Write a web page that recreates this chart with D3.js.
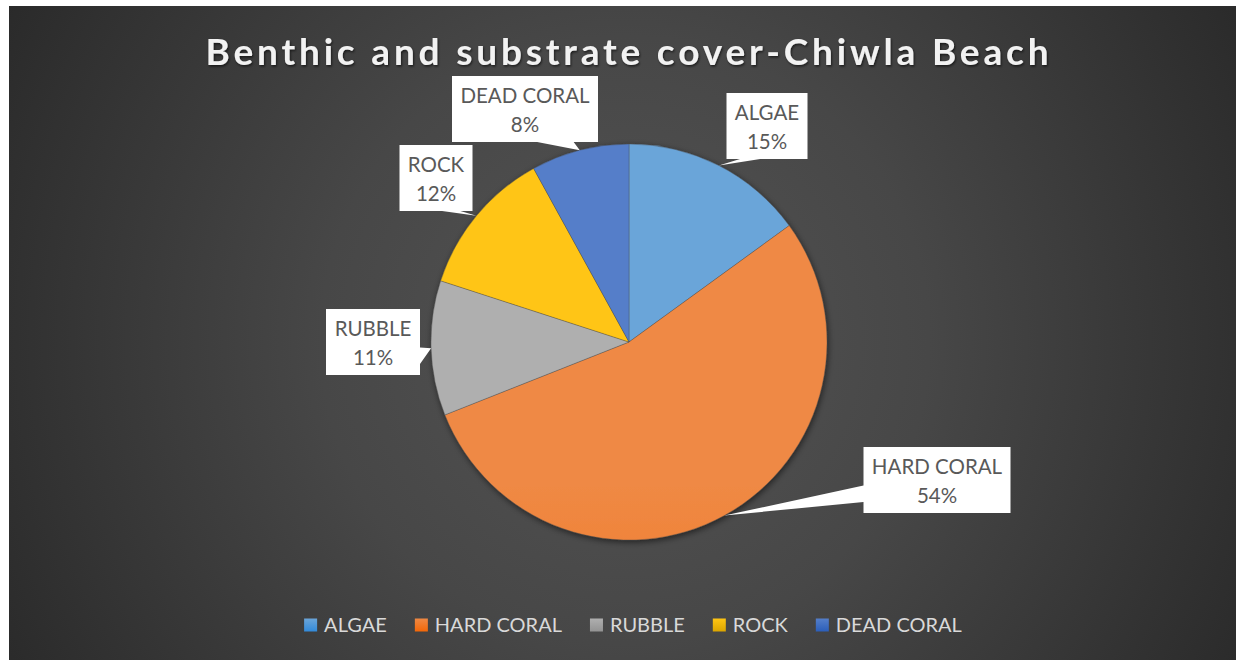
<!DOCTYPE html>
<html>
<head>
<script src="https://cdn.jsdelivr.net/npm/d3@7"></script>
<style>
body {margin: 0; background: #fff;}
text {font-family: Lato, "Open Sans", sans-serif;}
</style>
</head>
<body>
<svg id="chart" width="1236" height="660"></svg>
<script>
// data
var categories = ["ALGAE", "HARD CORAL", "RUBBLE", "ROCK", "DEAD CORAL"];
var values = [15, 54, 11, 12, 8];
var colors = ["#5B9BD5", "#ED7D31", "#A5A5A5", "#FFC000", "#4472C4"];
var title = "Benthic and substrate cover-Chiwla Beach";

// layout: callout box centres relative to the pie centre
var labelOffsets = [[138, -216], [308, 138], [-256, 0], [-193, -164], [-104, -233]];

var W = 1236, H = 660;
var cx = 629, cy = 342, R = 198;
var svg = d3.select("#chart");
var defs = svg.append("defs");

function tint(c, dl, ds) {
    var h = d3.hsl(c);
    h.l = Math.max(0, Math.min(1, h.l + dl));
    if (h.s > 0) h.s = Math.min(1, h.s + ds);
    return h.formatHex();
}
function addGrad(id, c, user) {
    var g = defs.append("linearGradient").attr("id", id);
    if (user) g.attr("gradientUnits", "userSpaceOnUse")
        .attr("x1", 0).attr("y1", cy - R).attr("x2", 0).attr("y2", cy + R);
    else g.attr("x1", 0).attr("y1", 0).attr("x2", 0).attr("y2", 1);
    g.append("stop").attr("offset", 0).attr("stop-color", tint(c, 0.04, 0));
    g.append("stop").attr("offset", 1).attr("stop-color", tint(c, -0.07, 0.1));
}

// background
var bg = defs.append("radialGradient").attr("id", "bg")
    .attr("gradientUnits", "userSpaceOnUse")
    .attr("cx", 625).attr("cy", 340).attr("r", 760);
bg.append("stop").attr("offset", 0).attr("stop-color", "#545454");
bg.append("stop").attr("offset", 0.4).attr("stop-color", "#474747");
bg.append("stop").attr("offset", 1).attr("stop-color", "#262626");
svg.append("rect").attr("x", 9).attr("y", 6).attr("width", W - 9).attr("height", H - 6)
    .attr("fill", "url(#bg)");

// shadows
var sh = defs.append("filter").attr("id", "shadow")
    .attr("x", "-20%").attr("y", "-20%").attr("width", "140%").attr("height", "140%");
sh.append("feDropShadow").attr("dx", 1).attr("dy", 2).attr("stdDeviation", 3)
    .attr("flood-color", "#000").attr("flood-opacity", 0.55);
var tsh = defs.append("filter").attr("id", "tshadow");
tsh.append("feDropShadow").attr("dx", 1).attr("dy", 1.5).attr("stdDeviation", 1.2)
    .attr("flood-color", "#000").attr("flood-opacity", 0.6);

// title
svg.append("text")
    .attr("x", 627).attr("y", 65)
    .attr("text-anchor", "middle")
    .attr("font-size", 37).attr("font-weight", "bold")
    .attr("textLength", 843).attr("lengthAdjust", "spacing")
    .attr("fill", "#f2f2f2")
    .attr("filter", "url(#tshadow)")
    .text(title);

categories.forEach(function(c, i) {
    addGrad("grad" + i, colors[i], true);
    addGrad("lgrad" + i, colors[i], false);
});

var total = d3.sum(values);
var pie = d3.pie().sort(null).value(function(d) { return d; });
var arcs = pie(values);
var arc = d3.arc().innerRadius(0).outerRadius(R);

var pg = svg.append("g").attr("transform", "translate(" + cx + "," + cy + ")")
    .attr("filter", "url(#shadow)");
pg.selectAll("path").data(arcs).enter().append("path")
    .attr("d", arc)
    .attr("fill", function(d, i) { return "url(#grad" + i + ")"; })
    .attr("stroke", "rgba(70,70,70,0.45)")
    .attr("stroke-width", 0.75);

// callouts
var pct = d3.format(".0%");
function calloutPath(x0, y0, w, h, tx, ty) {
    var dx = (tx - (x0 + w / 2)) / w, dy = (ty - (y0 + h / 2)) / h;
    var pts;
    if (Math.abs(dx) > Math.abs(dy)) {
        var ya = dy < 0 ? y0 + h * 2 / 12 : y0 + h * 7 / 12;
        var yb = dy < 0 ? y0 + h * 5 / 12 : y0 + h * 10 / 12;
        if (dx > 0) pts = [[x0, y0], [x0 + w, y0], [x0 + w, ya], [tx, ty], [x0 + w, yb], [x0 + w, y0 + h], [x0, y0 + h]];
        else pts = [[x0, y0], [x0 + w, y0], [x0 + w, y0 + h], [x0, y0 + h], [x0, yb], [tx, ty], [x0, ya]];
    } else {
        var xa = dx < 0 ? x0 + w * 2 / 12 : x0 + w * 7 / 12;
        var xb = dx < 0 ? x0 + w * 5 / 12 : x0 + w * 10 / 12;
        if (dy > 0) pts = [[x0, y0], [x0 + w, y0], [x0 + w, y0 + h], [xb, y0 + h], [tx, ty], [xa, y0 + h], [x0, y0 + h]];
        else pts = [[x0, y0], [xa, y0], [tx, ty], [xb, y0], [x0 + w, y0], [x0 + w, y0 + h], [x0, y0 + h]];
    }
    return "M" + pts.map(function(p) { return p.join(","); }).join("L") + "Z";
}

var lg = svg.append("g");
arcs.forEach(function(d, i) {
    var g = lg.append("g");
    var t = g.append("text").attr("text-anchor", "middle")
        .attr("font-size", 20.5).attr("fill", "#595959");
    var l1 = t.append("tspan").text(categories[i]);
    var l2 = t.append("tspan").text(pct(values[i] / total));
    var tw = Math.max(l1.node().getComputedTextLength(), l2.node().getComputedTextLength());
    var w = Math.round(tw + 17), h = 66;
    var bx = cx + labelOffsets[i][0] - w / 2, by = cy + labelOffsets[i][1] - h / 2;
    var mid = (d.startAngle + d.endAngle) / 2;
    var tx = cx + R * Math.sin(mid), ty = cy - R * Math.cos(mid);
    g.insert("path", "text").attr("d", calloutPath(bx, by, w, h, tx, ty)).attr("fill", "#fff");
    l1.attr("x", bx + w / 2).attr("y", by + 27);
    l2.attr("x", bx + w / 2).attr("y", by + 56);
});

// legend
var leg = svg.append("g");
var x = 0, sq = 13;
categories.forEach(function(c, i) {
    var g = leg.append("g").attr("transform", "translate(" + x + ",0)");
    g.append("rect").attr("x", 0).attr("y", 618.5).attr("width", sq).attr("height", sq)
        .attr("fill", "url(#lgrad" + i + ")");
    var t = g.append("text").attr("x", sq + 7).attr("y", 632)
        .attr("font-size", 20).attr("fill", "#d9d9d9").text(c);
    x += sq + 7 + t.node().getComputedTextLength() + 28;
});
var legW = x - 28;
leg.attr("transform", "translate(" + (633 - legW / 2) + ",0)");
</script>
</body>
</html>
